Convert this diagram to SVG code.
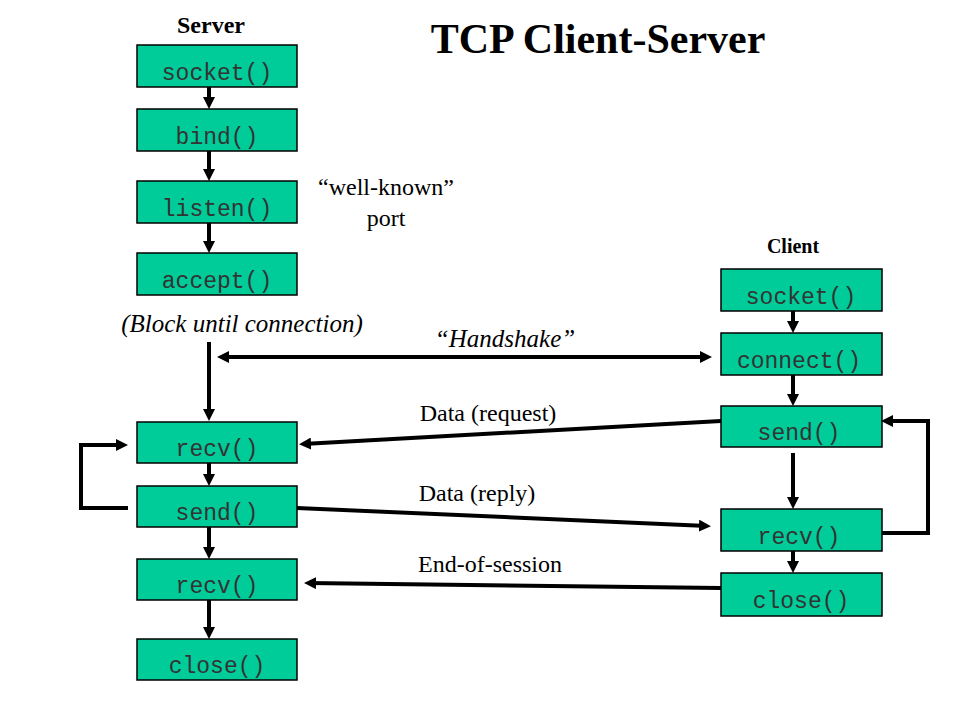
<svg xmlns="http://www.w3.org/2000/svg" width="960" height="720" viewBox="0 0 960 720">
<style>
.box{fill:#00CC99;stroke:#000;stroke-width:1.5}
.fn{font-family:"Liberation Mono","Courier New",monospace;font-size:23px;fill:#333;text-anchor:middle}
.lbl{font-family:"Liberation Serif","Times New Roman",serif;font-size:24px;fill:#000;text-anchor:middle}
.it{font-style:italic}
.b{font-weight:bold}
.ln{stroke:#000;stroke-width:4;fill:none}
</style>
<defs>
<marker id="ah" markerUnits="userSpaceOnUse" markerWidth="12" markerHeight="12" viewBox="0 0 12 12" refX="8" refY="6" orient="auto-start-reverse">
<path d="M0,0 L12,6 L0,12 z" fill="#000"/>
</marker>
</defs>
<rect width="960" height="720" fill="#fff"/>
<text class="lbl b" x="598" y="53" style="font-size:42px">TCP Client-Server</text>
<text class="lbl b" x="211" y="33" style="font-size:24px">Server</text>
<text class="lbl b" x="793" y="253" style="font-size:20px">Client</text>
<text class="lbl" x="386" y="195">“well-known”</text>
<text class="lbl" x="386" y="226">port</text>
<text class="lbl it" x="242" y="332" style="font-size:25px">(Block until connection)</text>
<text class="lbl it" x="505" y="347" style="font-size:25px">“Handshake”</text>
<text class="lbl" x="488" y="421">Data (request)</text>
<text class="lbl" x="477" y="501">Data (reply)</text>
<text class="lbl" x="490" y="572">End-of-session</text>

<g id="s_socket"><rect class="box" x="137" y="45" width="160" height="42"/><text class="fn" x="217" y="80">socket()</text></g>
<g id="s_bind"><rect class="box" x="137" y="109" width="160" height="42"/><text class="fn" x="217" y="144">bind()</text></g>
<g id="s_listen"><rect class="box" x="137" y="181" width="160" height="42"/><text class="fn" x="217" y="216">listen()</text></g>
<g id="s_accept"><rect class="box" x="137" y="253" width="160" height="42"/><text class="fn" x="217" y="288">accept()</text></g>
<g id="s_recv1"><rect class="box" x="137" y="422" width="160" height="41"/><text class="fn" x="217" y="456">recv()</text></g>
<g id="s_send"><rect class="box" x="137" y="486" width="160" height="41"/><text class="fn" x="217" y="520">send()</text></g>
<g id="s_recv2"><rect class="box" x="137" y="559" width="160" height="41"/><text class="fn" x="217" y="593">recv()</text></g>
<g id="s_close"><rect class="box" x="137" y="639" width="160" height="41"/><text class="fn" x="217" y="673">close()</text></g>

<g id="c_socket"><rect class="box" x="721" y="269" width="161" height="42"/><text class="fn" x="801" y="304">socket()</text></g>
<g id="c_connect"><rect class="box" x="721" y="333" width="161" height="42"/><text class="fn" x="799" y="368">connect()</text></g>
<g id="c_send"><rect class="box" x="721" y="406" width="161" height="41"/><text class="fn" x="799" y="440">send()</text></g>
<g id="c_recv"><rect class="box" x="721" y="509" width="161" height="42"/><text class="fn" x="799" y="544">recv()</text></g>
<g id="c_close"><rect class="box" x="721" y="573" width="161" height="43"/><text class="fn" x="801" y="608">close()</text></g>

<g id="connectors">
<line class="ln" x1="209" y1="87" x2="209" y2="105" marker-end="url(#ah)"/>
<line class="ln" x1="209" y1="151" x2="209" y2="177" marker-end="url(#ah)"/>
<line class="ln" x1="209" y1="223" x2="209" y2="249" marker-end="url(#ah)"/>
<line class="ln" x1="209" y1="342" x2="209" y2="417" marker-end="url(#ah)"/>
<line class="ln" x1="209" y1="463" x2="209" y2="482" marker-end="url(#ah)"/>
<line class="ln" x1="209" y1="527" x2="209" y2="555" marker-end="url(#ah)"/>
<line class="ln" x1="209" y1="600" x2="209" y2="635" marker-end="url(#ah)"/>
<path class="ln" d="M128,508 H81 V445 H124" marker-end="url(#ah)"/>
<line class="ln" x1="221" y1="357" x2="708" y2="357" marker-start="url(#ah)" marker-end="url(#ah)"/>
<line class="ln" x1="793" y1="311" x2="793" y2="329" marker-end="url(#ah)"/>
<line class="ln" x1="793" y1="375" x2="793" y2="402" marker-end="url(#ah)"/>
<line class="ln" x1="793" y1="453" x2="793" y2="505" marker-end="url(#ah)"/>
<line class="ln" x1="793" y1="551" x2="793" y2="569" marker-end="url(#ah)"/>
<path class="ln" d="M882,533 H928 V421 H885" marker-end="url(#ah)"/>
<line class="ln" x1="721" y1="421" x2="303" y2="444" marker-end="url(#ah)"/>
<line class="ln" x1="297" y1="508" x2="707" y2="526" marker-end="url(#ah)"/>
<line class="ln" x1="721" y1="588" x2="308" y2="583" marker-end="url(#ah)"/>
</g>
</svg>
